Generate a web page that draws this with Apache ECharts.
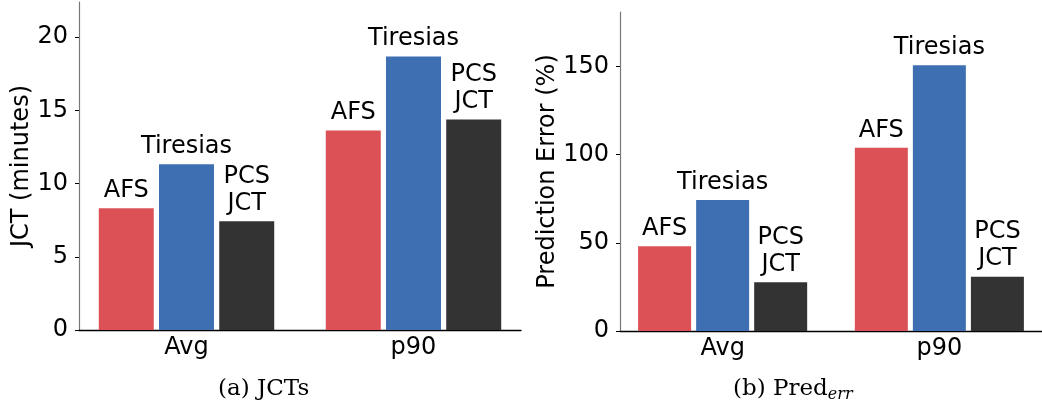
<!DOCTYPE html>
<html>
<head>
<meta charset="utf-8">
<script src="https://cdn.jsdelivr.net/npm/echarts@6/dist/echarts.min.js"></script>
<style>html,body{margin:0;padding:0;background:#fff;}#c{width:1042px;height:410px;}</style>
</head>
<body>
<div id="c"></div>
<script>
// Data
const categories = ['Avg', 'p90'];
const seriesNames = ['AFS', 'Tiresias', 'PCS JCT'];
const jctAFS = [8.32, 13.63];
const jctTiresias = [11.32, 18.68];
const jctPCS = [7.43, 14.38];
const errAFS = [48.1, 103.8];
const errTiresias = [74.2, 150.6];
const errPCS = [27.7, 30.8];
const jctTicks = [0, 5, 10, 15, 20];
const errTicks = [0, 50, 100, 150];

const colors = ['#dc5155', '#3e6fb2', '#333333'];
const FONT = 'DejaVu Sans';

function pts(arr) { return arr.map((v, i) => [i, v]); }

function makeSeries(vals, gridIdx, barW) {
  return vals.map((arr, k) => ({
    type: 'bar',
    name: seriesNames[k],
    xAxisIndex: gridIdx,
    yAxisIndex: gridIdx,
    data: pts(arr),
    barWidth: barW,
    barGap: '9.5%',
    itemStyle: { color: colors[k] },
    label: {
      show: true,
      position: 'top',
      distance: 4,
      formatter: k === 2 ? 'PCS\nJCT' : seriesNames[k],
      fontFamily: FONT,
      fontSize: 24,
      lineHeight: 27,
      color: '#000'
    }
  }));
}

function xAxisDef(gridIdx) {
  return {
    type: 'value',
    gridIndex: gridIdx,
    min: -0.4736,
    max: 1.4736,
    splitLine: { show: false },
    axisLine: { show: true, onZero: false, lineStyle: { color: '#000', width: 1.3 } },
    axisTick: { show: false },
    axisLabel: {
      customValues: [0, 1],
      formatter: v => categories[Math.round(v)],
      fontFamily: FONT, fontSize: 24, color: '#000', margin: 6
    }
  };
}

function yAxisDef(gridIdx, max, ticks, name, gap) {
  return {
    type: 'value',
    gridIndex: gridIdx,
    min: 0,
    max: max,
    name: name,
    nameLocation: 'middle',
    nameRotate: 90,
    nameGap: gap,
    nameTextStyle: { fontFamily: FONT, fontSize: 24, color: '#000' },
    splitLine: { show: false },
    axisLine: { show: true, onZero: false, lineStyle: { color: '#777', width: 1.2 } },
    axisTick: { show: true, customValues: ticks, length: 4, lineStyle: { color: '#000', width: 1 } },
    axisLabel: { customValues: ticks, fontFamily: FONT, fontSize: 24, color: '#000', margin: 11 }
  };
}

const chart = echarts.init(document.getElementById('c'), null, { renderer: 'canvas' });
chart.setOption({
  animation: false,
  backgroundColor: '#fff',
  grid: [
    { left: 79, right: 521, top: 2, bottom: 80 },
    { left: 620, right: -7, top: 12, bottom: 79 }
  ],
  xAxis: [xAxisDef(0), xAxisDef(1)],
  yAxis: [
    yAxisDef(0, 22.4, jctTicks, 'JCT (minutes)', 44),
    yAxisDef(1, 180.8, errTicks, 'Prediction Error (%)', 60)
  ],
  series: [
    ...makeSeries([jctAFS, jctTiresias, jctPCS], 0, 55),
    ...makeSeries([errAFS, errTiresias, errPCS], 1, 53)
  ],
  graphic: [
    {
      type: 'text', left: 218, top: 378,
      style: { text: '(a) JCTs', fontFamily: 'DejaVu Serif', fontSize: 23, fill: '#000' }
    },
    {
      type: 'text', left: 733, top: 378,
      style: {
        text: '{a|(b) Pred}{s|err}',
        rich: {
          a: { fontFamily: 'DejaVu Serif', fontSize: 23, color: '#000' },
          s: { fontFamily: 'DejaVu Serif', fontStyle: 'italic', fontSize: 16, color: '#000', padding: [11, 0, 0, 0] }
        }
      }
    }
  ]
});
</script>
</body>
</html>
